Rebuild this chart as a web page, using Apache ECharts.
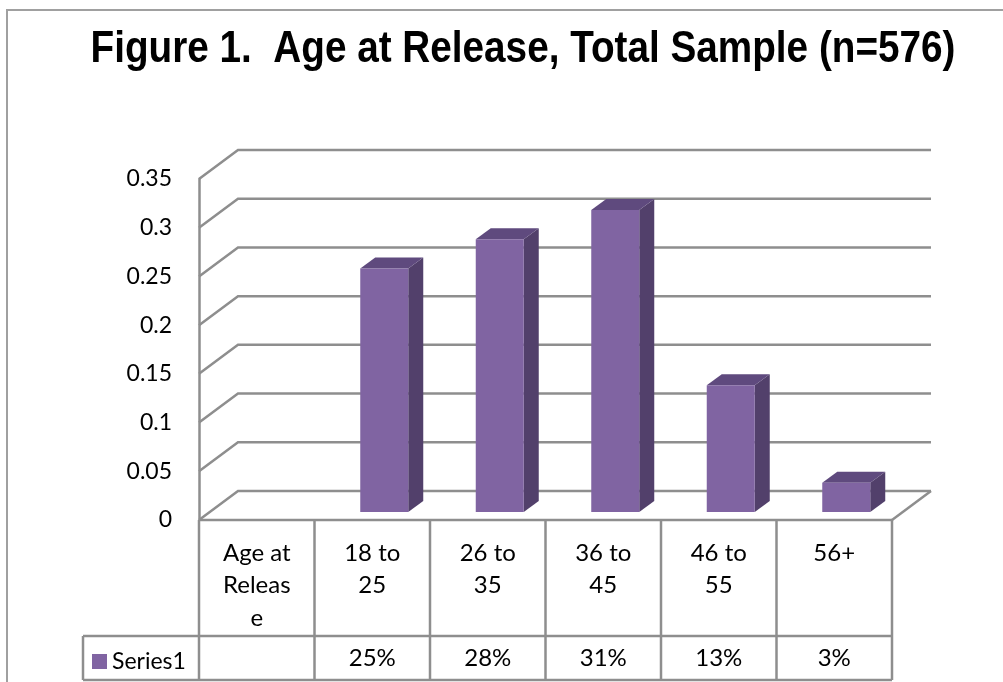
<!DOCTYPE html>
<html>
<head>
<meta charset="utf-8">
<script src="https://cdn.jsdelivr.net/npm/echarts@6/dist/echarts.min.js"></script>
<style>
  html, body { margin: 0; padding: 0; background: #fff; }
  #chart { width: 1003px; height: 682px; }
</style>
</head>
<body>
<div id="chart"></div>
<script>
// ---- data ----
const titleText = 'Figure 1.  Age at Release, Total Sample (n=576)';
const categories = ['Age at\nReleas\ne', '18 to\n25', '26 to\n35', '36 to\n45', '46 to\n55', '56+'];
const seriesName = 'Series1';
const values = [null, 0.25, 0.28, 0.31, 0.13, 0.03];
const yTicks = [0, 0.05, 0.1, 0.15, 0.2, 0.25, 0.3, 0.35];

// ---- styling ----
const FONT = 'Lato';
const LINE = '#8e8e8e';
const LINE_W = 2.5;
const WALL_DX = 39, WALL_DY = -29;        // depth of the side wall / floor
const BAR_SHIFT_X = 12, BAR_SHIFT_Y = -8; // bars sit half way into the depth
const BAR_W = 48, BAR_DX = 15, BAR_DY = -11;
const FRONT = '#8064A2', TOP = '#5F4A7E', SIDE = '#52406B';
const ROW_DIVIDER_Y = 636, TABLE_BOTTOM_Y = 680, LEGEND_CELL_X = 83;

const chart = echarts.init(document.getElementById('chart'), null, { renderer: 'canvas' });

function line(x1, y1, x2, y2) {
  return { type: 'line', shape: { x1, y1, x2, y2 }, style: { stroke: LINE, lineWidth: LINE_W } };
}

const option = {
  animation: false,
  backgroundColor: '#fff',
  graphic: [
    {
      type: 'rect', silent: true, z: -10,
      shape: { x: 7, y: 10, width: 1100, height: 800 },
      style: { fill: 'none', stroke: '#a0a0a0', lineWidth: 2 }
    },
    {
      type: 'text', x: 523, y: 50, scaleX: 0.9, scaleY: 1.02, silent: true,
      style: {
        text: titleText, x: 0, y: 0,
        font: 'bold 43px "Liberation Sans", Arial, sans-serif',
        fill: '#000', align: 'center', verticalAlign: 'middle'
      }
    }
  ],
  legend: {
    data: [seriesName],
    left: 87, top: 645,
    icon: 'rect', itemWidth: 15, itemHeight: 15,
    selectedMode: false,
    textStyle: { fontFamily: FONT, fontSize: 23, color: '#000' }
  },
  grid: { left: 199, top: 179, width: 693, height: 341, containLabel: false, outerBoundsMode: 'none' },
  xAxis: {
    type: 'category',
    data: categories,
    axisLine: { show: false },
    axisTick: { show: false },
    splitLine: { show: false },
    axisLabel: {
      interval: 0, margin: 17,
      fontFamily: FONT, fontSize: 24, lineHeight: 32.5, color: '#000',
      align: 'center', verticalAlign: 'top'
    }
  },
  yAxis: {
    type: 'value',
    min: 0, max: 0.35, interval: 0.05,
    axisLine: { show: true, lineStyle: { color: LINE, width: LINE_W } },
    axisTick: { show: false },
    splitLine: { show: false },
    axisLabel: { margin: 27, fontFamily: FONT, fontSize: 23, color: '#000' }
  },
  series: [
    {
      // side wall + back wall gridlines and the floor
      type: 'custom', name: 'walls', silent: true, z: 1,
      data: yTicks.map(v => [0, v]),
      renderItem(params, api) {
        const cs = params.coordSys;
        const v = api.value(1);
        const y = api.coord([0, v])[1];
        const x0 = cs.x, x1 = cs.x + cs.width;
        const children = [{
          type: 'polyline',
          shape: { points: [[x0, y], [x0 + WALL_DX, y + WALL_DY], [x1 + WALL_DX, y + WALL_DY]] },
          style: { stroke: LINE, lineWidth: LINE_W, fill: 'none' }
        }];
        if (v === 0) children.push(line(x1 + WALL_DX, y + WALL_DY, x1, y));
        return { type: 'group', children };
      }
    },
    {
      // data table grid under the plot
      type: 'custom', name: 'table', silent: true, z: 1,
      data: [[0, 0]],
      renderItem(params, api) {
        const cs = params.coordSys;
        const x0 = cs.x, x1 = cs.x + cs.width, yTop = cs.y + cs.height;
        const band = cs.width / categories.length;
        const children = [line(x0, yTop, x1, yTop)];
        for (let k = 0; k <= categories.length; k++) {
          const x = x0 + band * k;
          children.push(line(x, yTop, x, TABLE_BOTTOM_Y));
        }
        children.push(line(LEGEND_CELL_X, ROW_DIVIDER_Y, x1, ROW_DIVIDER_Y));
        children.push(line(LEGEND_CELL_X, TABLE_BOTTOM_Y, x1, TABLE_BOTTOM_Y));
        children.push(line(LEGEND_CELL_X, ROW_DIVIDER_Y, LEGEND_CELL_X, TABLE_BOTTOM_Y));
        return { type: 'group', children };
      }
    },
    {
      // 3-D columns
      type: 'custom', name: seriesName, z: 3,
      itemStyle: { color: FRONT },
      data: values.map((v, i) => [i, v]),
      renderItem(params, api) {
        const v = api.value(1);
        if (v == null || isNaN(v)) return null;
        const i = api.value(0);
        const base = api.coord([i, 0]);
        const top = api.coord([i, v]);
        const cx = base[0] + BAR_SHIFT_X;
        const y0 = base[1] + BAR_SHIFT_Y, y1 = top[1] + BAR_SHIFT_Y;
        const l = cx - BAR_W / 2, r = cx + BAR_W / 2;
        return {
          type: 'group',
          children: [
            { type: 'polygon', shape: { points: [[r, y0], [r + BAR_DX, y0 + BAR_DY], [r + BAR_DX, y1 + BAR_DY], [r, y1]] }, style: { fill: SIDE } },
            { type: 'polygon', shape: { points: [[l, y1], [l + BAR_DX, y1 + BAR_DY], [r + BAR_DX, y1 + BAR_DY], [r, y1]] }, style: { fill: TOP } },
            { type: 'rect', shape: { x: l, y: y1, width: BAR_W, height: y0 - y1 }, style: { fill: FRONT } }
          ]
        };
      }
    },
    {
      // value row of the data table
      type: 'custom', name: 'valueRow', silent: true, z: 3,
      data: values.map((v, i) => [i, v]),
      renderItem(params, api) {
        const v = api.value(1);
        if (v == null || isNaN(v)) return null;
        const x = api.coord([api.value(0), 0])[0];
        return {
          type: 'text',
          style: {
            text: Math.round(v * 100) + '%',
            x, y: (ROW_DIVIDER_Y + TABLE_BOTTOM_Y) / 2,
            fontFamily: FONT, fontSize: 24, fill: '#000',
            align: 'center', verticalAlign: 'middle'
          }
        };
      }
    }
  ]
};

chart.setOption(option);
</script>
</body>
</html>
